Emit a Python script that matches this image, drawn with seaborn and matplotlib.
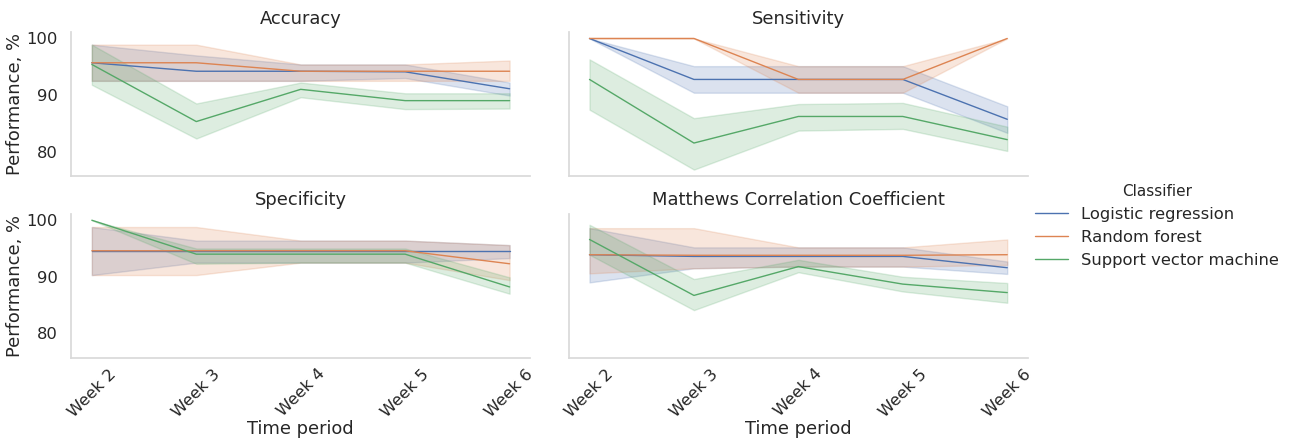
"""
Classifier performance over time, one facet per metric.
Lines are the median estimate, bands the min-max range of the three rows per point.
"""

import pandas as pd
import matplotlib
matplotlib.use('Agg')
import matplotlib.pyplot as plt
import seaborn as sns

weeks = ['Week 2', 'Week 3', 'Week 4', 'Week 5', 'Week 6']
metrics = ['Accuracy', 'Sensitivity', 'Specificity', 'Matthews Correlation Coefficient']
classifiers = ['Logistic regression', 'Random forest', 'Support vector machine']

# Accuracy
acc_lr = [95.7, 94.2, 94.2, 94.1, 91.1]
acc_lr_lo = [92.5, 92.5, 92.5, 93.0, 89.9]
acc_lr_hi = [98.9, 97.0, 95.4, 95.4, 92.2]
acc_rf = [95.7, 95.7, 94.2, 94.2, 94.2]
acc_rf_lo = [92.5, 92.5, 92.5, 92.5, 92.5]
acc_rf_hi = [98.9, 98.9, 95.4, 95.4, 96.1]
acc_svm = [95.4, 85.3, 91.0, 89.0, 89.0]
acc_svm_lo = [91.8, 82.3, 89.6, 87.5, 87.6]
acc_svm_hi = [98.9, 88.5, 92.2, 90.3, 90.3]

# Sensitivity
sens_lr = [100.0, 92.75, 92.75, 92.75, 85.7]
sens_lr_lo = [100.0, 90.4, 90.4, 90.4, 83.3]
sens_lr_hi = [100.0, 95.1, 95.1, 95.1, 88.0]
sens_rf = [100.0, 100.0, 92.75, 92.75, 100.0]
sens_rf_lo = [100.0, 100.0, 90.4, 90.4, 100.0]
sens_rf_hi = [100.0, 100.0, 95.1, 95.1, 100.0]
sens_svm = [92.75, 81.5, 86.2, 86.2, 82.1]
sens_svm_lo = [87.4, 76.8, 83.7, 84.0, 80.1]
sens_svm_hi = [96.3, 85.9, 88.4, 88.6, 84.4]

# Specificity
spec_lr = [94.6, 94.6, 94.6, 94.6, 94.6]
spec_lr_lo = [90.3, 92.5, 92.5, 92.5, 93.3]
spec_lr_hi = [98.8, 96.4, 96.4, 96.4, 95.6]
spec_rf = [94.6, 94.6, 94.6, 94.6, 92.3]
spec_rf_lo = [90.3, 90.3, 92.5, 92.5, 89.4]
spec_rf_hi = [98.8, 98.8, 96.4, 96.4, 95.6]
spec_svm = [100.0, 94.0, 94.0, 94.0, 88.2]
spec_svm_lo = [100.0, 92.3, 92.5, 92.5, 87.0]
spec_svm_hi = [100.0, 95.0, 95.0, 95.0, 89.9]

# Matthews Correlation Coefficient
mcc_lr = [93.9, 93.6, 93.6, 93.6, 91.6]
mcc_lr_lo = [89.0, 91.5, 91.8, 91.8, 90.5]
mcc_lr_hi = [98.6, 95.2, 95.2, 95.2, 92.7]
mcc_rf = [93.9, 93.8, 93.8, 93.8, 93.9]
mcc_rf_lo = [90.6, 91.5, 91.8, 91.8, 92.1]
mcc_rf_hi = [98.6, 98.6, 95.2, 95.2, 96.6]
mcc_svm = [96.6, 86.7, 91.8, 88.7, 87.2]
mcc_svm_lo = [93.9, 84.1, 90.8, 87.4, 85.4]
mcc_svm_hi = [99.2, 89.6, 93.0, 90.0, 88.9]

series = {
    ('Accuracy', 'Logistic regression'): (acc_lr, acc_lr_lo, acc_lr_hi),
    ('Accuracy', 'Random forest'): (acc_rf, acc_rf_lo, acc_rf_hi),
    ('Accuracy', 'Support vector machine'): (acc_svm, acc_svm_lo, acc_svm_hi),
    ('Sensitivity', 'Logistic regression'): (sens_lr, sens_lr_lo, sens_lr_hi),
    ('Sensitivity', 'Random forest'): (sens_rf, sens_rf_lo, sens_rf_hi),
    ('Sensitivity', 'Support vector machine'): (sens_svm, sens_svm_lo, sens_svm_hi),
    ('Specificity', 'Logistic regression'): (spec_lr, spec_lr_lo, spec_lr_hi),
    ('Specificity', 'Random forest'): (spec_rf, spec_rf_lo, spec_rf_hi),
    ('Specificity', 'Support vector machine'): (spec_svm, spec_svm_lo, spec_svm_hi),
    ('Matthews Correlation Coefficient', 'Logistic regression'): (mcc_lr, mcc_lr_lo, mcc_lr_hi),
    ('Matthews Correlation Coefficient', 'Random forest'): (mcc_rf, mcc_rf_lo, mcc_rf_hi),
    ('Matthews Correlation Coefficient', 'Support vector machine'): (mcc_svm, mcc_svm_lo, mcc_svm_hi),
}

# long-form table: lo / mid / hi per point -> median gives the line, pi 100 the band
rows = []
for metric in metrics:
    for clf in classifiers:
        mid, lo, hi = series[(metric, clf)]
        for i, week in enumerate(weeks):
            for v in (lo[i], mid[i], hi[i]):
                rows.append({'Metric': metric, 'Time period': week,
                             'Classifier': clf, 'Performance, %': v})
df = pd.DataFrame(rows)

sns.set_theme(style='white', context='notebook', font_scale=1.07,
              rc={'axes.edgecolor': '.85'})
plt.rcParams['font.family'] = ['DejaVu Sans']

g = sns.relplot(data=df, x='Time period', y='Performance, %', hue='Classifier',
                hue_order=classifiers, col='Metric', col_order=metrics, col_wrap=2,
                kind='line', estimator='median', errorbar=('pi', 100),
                linewidth=1, height=2.2, aspect=2.9)
g.set_titles('{col_name}')
for ax in g.axes.flat:
    ax.tick_params(axis='x', labelrotation=45, pad=0)
    ax.xaxis.labelpad = 0
    ax.yaxis.labelpad = 2

g.figure.set_size_inches(12.9, 4.43)
g.figure.subplots_adjust(left=0.055, right=0.797, top=0.928, bottom=0.192,
                         wspace=0.083, hspace=0.26)
sns.move_legend(g, 'center left', bbox_to_anchor=(0.791, 0.49), frameon=False)
g._legend.get_title().set_fontsize(11)

g.figure.savefig('out.png', dpi=100)
